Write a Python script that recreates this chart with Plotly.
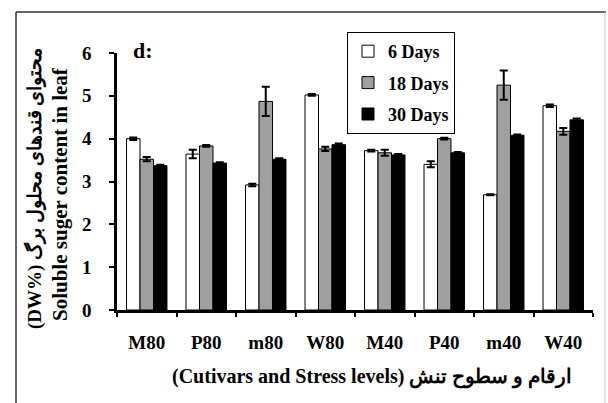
import plotly.graph_objects as go

categories = ["M80", "P80", "m80", "W80", "M40", "P40", "m40", "W40"]
days6 = [4.00, 3.64, 2.92, 5.02, 3.72, 3.40, 2.69, 4.77]
days6_err = [0.03, 0.10, 0.03, 0.02, 0.02, 0.07, 0.01, 0.03]
days18 = [3.52, 3.83, 4.87, 3.76, 3.67, 4.00, 5.25, 4.17]
days18_err = [0.05, 0.02, 0.34, 0.05, 0.07, 0.02, 0.34, 0.08]
days30 = [3.37, 3.43, 3.52, 3.86, 3.62, 3.67, 4.08, 4.44]
days30_err = [0.02, 0.02, 0.02, 0.03, 0.02, 0.02, 0.02, 0.03]
series_names = ["6 Days", "18 Days", "30 Days"]
y_ticks = [0, 1, 2, 3, 4, 5, 6]

SERIF = "Liberation Serif, Times New Roman, serif"
W, H = 608, 403
L, R, T, B = 117, 15, 53, 93
pw, ph = W - L - R, H - T - B


def px(x):
    return (x - L) / pw


def py(y):
    return (H - B - y) / ph


fig = go.Figure()
colors = ["#ffffff", "#a0a0a0", "#000000"]
for name, vals, errs, col in zip(series_names, [days6, days18, days30],
                                 [days6_err, days18_err, days30_err], colors):
    fig.add_trace(go.Bar(
        x=categories, y=vals, name=name, legendgroup=name,
        marker=dict(color=col, line=dict(color="black", width=1)),
        error_y=dict(type="data", array=errs, visible=True,
                     color="black", thickness=2, width=4),
    ))


def ann(text, x, y, size, angle=0):
    return dict(text=text, x=px(x), y=py(y), xref="paper", yref="paper",
                xanchor="center", yanchor="middle", showarrow=False,
                textangle=angle,
                font=dict(family=SERIF, size=size, color="black", weight="bold"))


fig.update_layout(
    width=W, height=H,
    margin=dict(l=L, r=R, t=T, b=B, autoexpand=False),
    paper_bgcolor="white", plot_bgcolor="white",
    barmode="group", bargap=0.32, bargroupgap=0,
    font=dict(family=SERIF, color="black"),
    showlegend=True,
    legend=dict(
        x=px(347), y=py(32), xanchor="left", yanchor="top",
        bgcolor="white", bordercolor="black", borderwidth=1,
        font=dict(family=SERIF, size=18, color="black", weight="bold"),
        tracegroupgap=5, itemwidth=30,
    ),
    xaxis=dict(
        automargin=False,
        showline=True, linecolor="black", linewidth=2.5,
        ticks="outside", tickson="boundaries", ticklen=4, tickwidth=2,
        tickcolor="black", showgrid=False,
        tickfont=dict(family=SERIF, size=19, color="black", weight="bold"),
        ticklabelstandoff=13,
    ),
    yaxis=dict(
        automargin=False,
        range=[0, 6], tickvals=y_ticks, showline=True, linecolor="black",
        linewidth=2.5, ticks="outside", ticklen=5, tickwidth=2,
        tickcolor="black", showgrid=False, zeroline=False,
        tickfont=dict(family=SERIF, size=19, color="black", weight="bold"),
        ticklabelstandoff=14,
    ),
    annotations=[
        ann("d:", 143, 50, 22),
        ann("(DW%) محتوای قندهای محلول برگ", 34, 189, 19, -90),
        ann("Soluble suger content in leaf", 60, 194, 21, -90),
        ann("(Cutivars and Stress levels) ارقام و سطوح تنش", 372, 377, 20),
    ],
    shapes=[
        dict(type="line", xref="paper", yref="paper", x0=px(16), x1=px(16),
             y0=py(12), y1=py(403), line=dict(color="#333333", width=1.5)),
        dict(type="line", xref="paper", yref="paper", x0=px(16), x1=px(606),
             y0=py(12), y1=py(12), line=dict(color="#333333", width=1.5)),
        dict(type="line", xref="paper", yref="paper", x0=px(605), x1=px(605),
             y0=py(12), y1=py(403), line=dict(color="#cccccc", width=1)),
    ],
)

fig.write_html(
    "out.html",
    config={"displayModeBar": False},
    post_script="document.body.style.margin='0';document.body.style.overflow='hidden';",
)
